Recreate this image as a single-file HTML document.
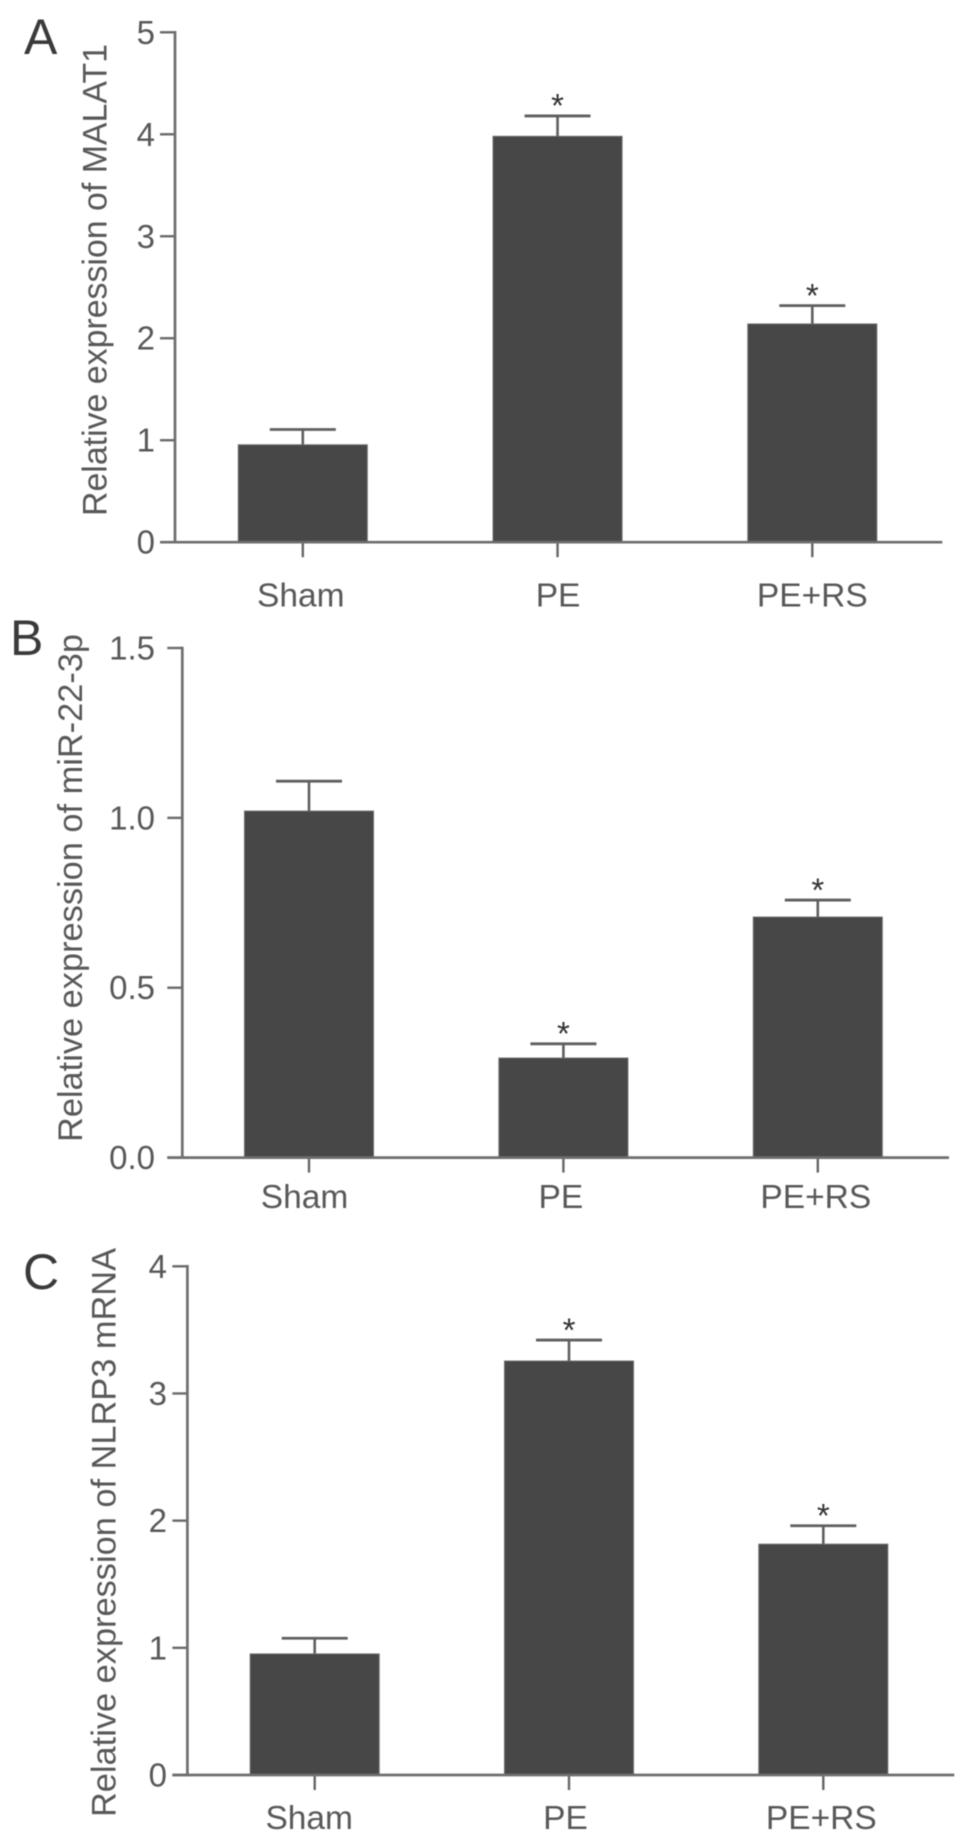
<!DOCTYPE html>
<html lang="en">
<head>
<meta charset="utf-8">
<title>Relative expression bar charts</title>
<style>
  html, body { margin: 0; padding: 0; background: #fff; }
  #figure { display: block; width: 969px; height: 1842px; filter: blur(0.45px); }
  text { font-family: "Liberation Sans", sans-serif; fill: #585858; }
</style>
</head>
<body>
<svg id="figure" xmlns="http://www.w3.org/2000/svg" width="969" height="1842" viewBox="0 0 969 1842"></svg>
<script>
var categories = ['Sham', 'PE', 'PE+RS'];

var valuesA = [0.955, 3.98, 2.14];
var errorsA = [0.15, 0.20, 0.18];
var significantA = [false, true, true];
var ticksA = [0, 1, 2, 3, 4, 5];
var tickLabelsA = ['0', '1', '2', '3', '4', '5'];

var valuesB = [1.02, 0.293, 0.708];
var errorsB = [0.088, 0.042, 0.050];
var significantB = [false, true, true];
var ticksB = [0, 0.5, 1.0, 1.5];
var tickLabelsB = ['0.0', '0.5', '1.0', '1.5'];

var valuesC = [0.952, 3.255, 1.815];
var errorsC = [0.123, 0.165, 0.145];
var significantC = [false, true, true];
var ticksC = [0, 1, 2, 3, 4];
var tickLabelsC = ['0', '1', '2', '3', '4'];

var NS = 'http://www.w3.org/2000/svg';
var svg = document.getElementById('figure');

function make(tag, attrs, parent) {
  var el = document.createElementNS(NS, tag);
  for (var k in attrs) { el.setAttribute(k, attrs[k]); }
  parent.appendChild(el);
  return el;
}

function drawPanel(p) {
  var g = make('g', {}, svg);
  
  

  var yMax = p.ticks[p.ticks.length - 1];
  function y(v) { return p.y0 - (v / yMax) * (p.y0 - p.yTop); }
  function x(i) { return p.x0 + i * p.step; }

  var letter = make('text', { x: p.letterX, y: p.letterY, 'font-size': 50, style: 'fill:#3a3a3a' }, g);
  letter.textContent = p.id;
  
  

  var title = make('text', {
    transform: 'translate(' + p.titleX + ',' + p.titleBottom + ') rotate(-90)',
    'font-size': 34, textLength: p.titleLen, lengthAdjust: 'spacingAndGlyphs'
  }, g);
  title.textContent = p.title;
  
  

  p.values.forEach(function (v, i) {
    var cx = x(i), top = y(v), capY = y(v + p.errors[i]);

    var stem = make('line', { x1: cx, x2: cx, y1: capY, y2: top, stroke: '#5f5f5f', 'stroke-width': 2.6 }, g);
    
    

    var cap = make('line', { x1: cx - 33, x2: cx + 33, y1: capY, y2: capY, stroke: '#5f5f5f', 'stroke-width': 2.8 }, g);
    
    

    var bar = make('rect', {
      x: cx - 64.5, width: 129, y: top, height: p.y0 - top,
      fill: '#474747', stroke: '#6a6a6a', 'stroke-width': 1
    }, g);
    
    

    var tm = make('line', { x1: cx, x2: cx, y1: p.y0, y2: p.y0 + 15, stroke: '#666', 'stroke-width': 2.4 }, g);
    
    

    var lab = make('text', { x: cx + p.labelDx[i], y: p.labelY, 'font-size': 33.5, 'text-anchor': 'middle' }, g);
    lab.textContent = categories[i];
    
    

    if (p.significant[i]) {
      var star = make('text', { x: cx, y: capY + 1.2, 'font-size': 33, 'text-anchor': 'middle', style: 'fill:#333' }, g);
      star.textContent = '*';
      
      
    }
  });

  p.ticks.forEach(function (t, i) {
    var ty = y(t);
    var tk = make('line', { x1: p.axisX - 15, x2: p.axisX, y1: ty, y2: ty, stroke: '#6a6a6a', 'stroke-width': 2.4 }, g);
    
    

    var tl = make('text', { x: p.tickLabelX, y: ty + 11.5, 'font-size': 33, 'text-anchor': 'end' }, g);
    tl.textContent = p.tickLabels[i];
    
    
  });

  var ya = make('line', { x1: p.axisX, x2: p.axisX, y1: y(yMax) - 1.3, y2: p.y0 + 1.3, stroke: '#6e6e6e', 'stroke-width': 2.7 }, g);
  
  

  var xa = make('line', { x1: p.axisX - 15, x2: p.xEnd, y1: p.y0, y2: p.y0, stroke: '#6e6e6e', 'stroke-width': 2.7 }, g);
  
  
}

drawPanel({
  id: 'A', title: 'Relative expression of MALAT1',
  values: valuesA, errors: errorsA, significant: significantA, ticks: ticksA, tickLabels: tickLabelsA,
  axisX: 175, xEnd: 942.3, y0: 542.2, yTop: 32.3, x0: 302.8, step: 254.75,
  letterX: 24, letterY: 54, titleX: 106.5, titleBottom: 516, titleLen: 472,
  tickLabelX: 155, labelY: 606.3, labelDx: [-2, 0.5, 0]
});

drawPanel({
  id: 'B', title: 'Relative expression of miR-22-3p',
  values: valuesB, errors: errorsB, significant: significantB, ticks: ticksB, tickLabels: tickLabelsB,
  axisX: 182.3, xEnd: 949, y0: 1157.6, yTop: 648, x0: 309, step: 254.4,
  letterX: 10, letterY: 655, titleX: 82, titleBottom: 1142, titleLen: 508,
  tickLabelX: 155, labelY: 1208, labelDx: [-4.5, -2.5, -2]
});

drawPanel({
  id: 'C', title: 'Relative expression of NLRP3 mRNA',
  values: valuesC, errors: errorsC, significant: significantC, ticks: ticksC, tickLabels: tickLabelsC,
  axisX: 187.4, xEnd: 954.3, y0: 1775, yTop: 1266.3, x0: 314.7, step: 254.3,
  letterX: 23, letterY: 1289, titleX: 115.5, titleBottom: 1817, titleLen: 569,
  tickLabelX: 167, labelY: 1829, labelDx: [-5.5, -3.5, -2]
});
</script>
</body>
</html>
